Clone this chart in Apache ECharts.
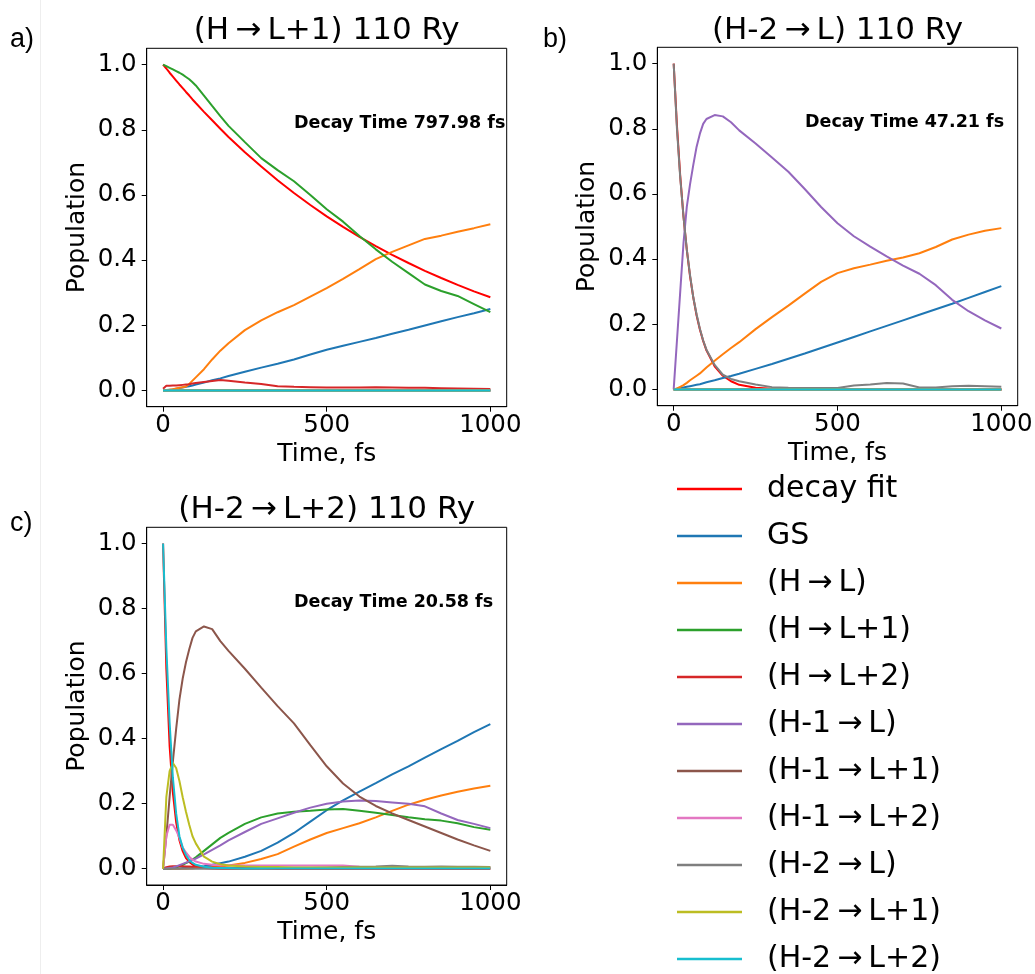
<!DOCTYPE html>
<html><head><meta charset="utf-8">
<script src="https://cdn.jsdelivr.net/npm/echarts@6/dist/echarts.min.js"></script>
<style>html,body{margin:0;padding:0;background:#fff}#c{width:1035px;height:974px}</style>
</head><body><div id="c"></div><script>
// time axis (fs)
const T = [0,10,20,30,40,50,60,70,80,90,100,125,150,175,200,250,300,350,400,450,500,550,600,650,700,750,800,850,900,950,1000];
const xTicks = [0,500,1000];
const yTicks = [0,0.2,0.4,0.6,0.8,1];
const seriesNames = ['decay fit','GS','(H\u2009\u2192\u2009L)','(H\u2009\u2192\u2009L+1)','(H\u2009\u2192\u2009L+2)','(H-1\u2009\u2192\u2009L)','(H-1\u2009\u2192\u2009L+1)','(H-1\u2009\u2192\u2009L+2)','(H-2\u2009\u2192\u2009L)','(H-2\u2009\u2192\u2009L+1)','(H-2\u2009\u2192\u2009L+2)'];
const panelTitles = ['(H\u2009\u2192\u2009L+1) 110 Ry','(H-2\u2009\u2192\u2009L) 110 Ry','(H-2\u2009\u2192\u2009L+2) 110 Ry'];
const decayTexts = ['Decay Time 797.98 fs','Decay Time 47.21 fs','Decay Time 20.58 fs'];
const panelLetters = ['a)','b)','c)'];

// panel a: (H->L+1)
const a_decay = [1.000,0.988,0.975,0.963,0.951,0.939,0.928,0.916,0.905,0.893,0.882,0.855,0.829,0.803,0.778,0.731,0.687,0.645,0.606,0.569,0.534,0.502,0.471,0.443,0.416,0.391,0.367,0.345,0.324,0.304,0.286];
const a_GS    = [0,0.001,0.002,0.003,0.005,0.007,0.009,0.011,0.013,0.015,0.018,0.024,0.031,0.037,0.044,0.057,0.070,0.082,0.095,0.110,0.125,0.137,0.149,0.161,0.174,0.186,0.199,0.212,0.225,0.237,0.250];
const a_HL    = [0,0,0.002,0.004,0.006,0.008,0.010,0.012,0.020,0.030,0.040,0.065,0.095,0.122,0.145,0.185,0.215,0.240,0.262,0.288,0.314,0.342,0.372,0.403,0.425,0.445,0.465,0.475,0.487,0.498,0.510];
const a_HL1   = [1.000,0.995,0.990,0.985,0.980,0.975,0.969,0.962,0.955,0.946,0.936,0.905,0.873,0.842,0.812,0.762,0.713,0.676,0.642,0.600,0.556,0.518,0.474,0.433,0.395,0.360,0.325,0.305,0.290,0.265,0.240];
const a_HL2   = [0.005,0.014,0.014,0.015,0.015,0.016,0.017,0.018,0.019,0.021,0.023,0.026,0.029,0.032,0.030,0.024,0.020,0.013,0.011,0.010,0.009,0.009,0.009,0.010,0.009,0.008,0.008,0.007,0.006,0.005,0.004];
const a_H1L   = [0,0,0,0,0,0,0,0,0,0,0,0,0,0,0,0,0,0,0,0,0,0,0,0,0,0,0,0,0,0,0];
const a_H1L1  = [0,0,0,0,0,0,0,0,0,0,0,0,0,0,0,0,0,0,0,0,0,0,0,0,0,0,0,0,0,0,0];
const a_H1L2  = [0,0,0,0,0,0,0,0,0,0,0,0,0,0,0,0,0,0,0,0,0,0,0,0,0,0,0,0,0,0,0];
const a_H2L   = [0,0,0,0,0,0,0,0,0,0,0,0,0,0,0,0,0,0,0,0,0,0,0,0,0,0,0,0,0,0,0];
const a_H2L1  = [0,0,0,0,0,0,0,0,0,0,0,0,0,0,0,0,0,0,0,0,0,0,0,0,0,0,0,0,0,0,0];
const a_H2L2  = [0,0,0,0,0,0,0,0,0,0,0,0,0,0,0,0,0,0,0,0,0,0,0,0,0,0,0,0,0,0,0];

// panel b: (H-2->L)
const b_decay = [1.000,0.809,0.655,0.530,0.429,0.347,0.281,0.227,0.184,0.149,0.120,0.071,0.042,0.025,0.014,0.005,0.002,0.001,0,0,0,0,0,0,0,0,0,0,0,0,0];
const b_GS    = [0,0.002,0.004,0.006,0.008,0.010,0.012,0.014,0.016,0.019,0.022,0.028,0.035,0.041,0.048,0.063,0.078,0.094,0.110,0.127,0.144,0.161,0.178,0.195,0.212,0.229,0.246,0.263,0.281,0.299,0.317];
const b_HL    = [0,0.003,0.008,0.013,0.020,0.028,0.035,0.042,0.049,0.058,0.067,0.088,0.108,0.127,0.145,0.185,0.222,0.257,0.294,0.330,0.357,0.372,0.383,0.395,0.405,0.418,0.437,0.460,0.475,0.487,0.495];
const b_HL1   = [0,0,0,0,0,0,0,0,0,0,0,0,0,0,0,0,0,0,0,0,0,0,0,0,0,0,0,0,0,0,0];
const b_HL2   = [0,0,0,0,0,0,0,0,0,0,0,0,0,0,0,0,0,0,0,0,0,0,0,0,0,0,0,0,0,0,0];
const b_H1L   = [0,0.15,0.30,0.45,0.56,0.63,0.69,0.745,0.785,0.815,0.830,0.842,0.838,0.820,0.795,0.755,0.712,0.668,0.615,0.560,0.510,0.470,0.438,0.408,0.380,0.355,0.320,0.275,0.240,0.212,0.187];
const b_H1L1  = [0,0,0,0,0,0,0,0,0,0,0,0,0,0,0,0,0,0,0,0,0,0,0,0,0,0,0,0,0,0,0];
const b_H1L2  = [0,0,0,0,0,0,0,0,0,0,0,0,0,0,0,0,0,0,0,0,0,0,0,0,0,0,0,0,0,0,0];
const b_H2L   = [1.000,0.800,0.650,0.530,0.430,0.350,0.282,0.230,0.186,0.150,0.122,0.075,0.045,0.032,0.025,0.015,0.007,0.005,0.004,0.004,0.004,0.012,0.015,0.020,0.018,0.006,0.006,0.010,0.011,0.010,0.008];
const b_H2L1  = [0,0,0,0,0,0,0,0,0,0,0,0,0,0,0,0,0,0,0,0,0,0,0,0,0,0,0,0,0,0,0];
const b_H2L2  = [0,0,0,0,0,0,0,0,0,0,0,0,0,0,0,0,0,0,0,0,0,0,0,0,0,0,0,0,0,0,0];

// panel c: (H-2->L+2)
const c_decay = [1.000,0.615,0.378,0.233,0.143,0.088,0.054,0.033,0.021,0.013,0.008,0.002,0.001,0,0,0,0,0,0,0,0,0,0,0,0,0,0,0,0,0,0];
const c_GS    = [0,0,0,0.001,0.001,0.001,0.002,0.002,0.003,0.004,0.005,0.008,0.012,0.017,0.022,0.037,0.055,0.080,0.110,0.145,0.180,0.210,0.237,0.263,0.290,0.315,0.342,0.368,0.393,0.420,0.445];
const c_HL    = [0,0,0,0,0,0,0,0,0.001,0.001,0.002,0.003,0.005,0.007,0.010,0.018,0.030,0.045,0.068,0.090,0.110,0.125,0.140,0.158,0.178,0.197,0.212,0.225,0.237,0.247,0.255];
const c_HL1   = [0,0,0.001,0.002,0.004,0.008,0.012,0.017,0.022,0.028,0.035,0.055,0.075,0.095,0.110,0.138,0.158,0.170,0.175,0.178,0.182,0.184,0.178,0.172,0.165,0.158,0.152,0.148,0.140,0.128,0.120];
const c_HL2   = [0,0.005,0.007,0.008,0.008,0.008,0.008,0.007,0.007,0.006,0.006,0.005,0.004,0.003,0.003,0.002,0.002,0.001,0.001,0.001,0.001,0.001,0.001,0.001,0.001,0.001,0.001,0.001,0.001,0.001,0.001];
const c_H1L   = [0,0.001,0.002,0.004,0.007,0.011,0.015,0.019,0.023,0.027,0.031,0.044,0.058,0.072,0.087,0.113,0.138,0.155,0.172,0.188,0.200,0.207,0.210,0.208,0.204,0.200,0.192,0.170,0.150,0.138,0.125];
const c_H1L1  = [0,0.10,0.22,0.33,0.43,0.52,0.585,0.635,0.675,0.71,0.73,0.745,0.737,0.70,0.67,0.615,0.557,0.50,0.447,0.38,0.315,0.262,0.222,0.193,0.170,0.150,0.130,0.110,0.090,0.072,0.055];
const c_H1L2  = [0,0.10,0.135,0.135,0.118,0.095,0.065,0.050,0.037,0.028,0.022,0.015,0.012,0.011,0.011,0.010,0.010,0.010,0.010,0.010,0.010,0.010,0.006,0.005,0.005,0.004,0.004,0.004,0.004,0.004,0.004];
const c_H2L   = [0,0,0,0,0,0,0,0,0,0,0,0,0,0,0,0,0.001,0.002,0.003,0.003,0.004,0.005,0.006,0.007,0.009,0.007,0.006,0.007,0.006,0.006,0.005];
const c_H2L1  = [0,0.22,0.30,0.325,0.31,0.27,0.22,0.175,0.135,0.100,0.078,0.037,0.022,0.014,0.010,0.007,0.005,0.005,0.004,0.004,0.004,0.004,0.004,0.004,0.004,0.004,0.004,0.004,0.004,0.004,0.004];
const c_H2L2  = [1.000,0.680,0.450,0.280,0.170,0.100,0.065,0.042,0.027,0.018,0.012,0.006,0.003,0.002,0.002,0.001,0.001,0.001,0.001,0.001,0.001,0.001,0.001,0.001,0.001,0.001,0.001,0.001,0.001,0.001,0.001];

const seriesColors = ['#ff0000','#1f77b4','#ff7f0e','#2ca02c','#d62728','#9467bd','#8c564b','#e377c2','#7f7f7f','#bcbd22','#17becf'];
const panels = [
  [a_decay,a_GS,a_HL,a_HL1,a_HL2,a_H1L,a_H1L1,a_H1L2,a_H2L,a_H2L1,a_H2L2],
  [b_decay,b_GS,b_HL,b_HL1,b_HL2,b_H1L,b_H1L1,b_H1L2,b_H2L,b_H2L1,b_H2L2],
  [c_decay,c_GS,c_HL,c_HL1,c_HL2,c_H1L,c_H1L1,c_H1L2,c_H2L,c_H2L1,c_H2L2]
];

const FONT = 'DejaVu Sans';
const gridBoxes = [
  {left:146.7, top:48.3, width:360, height:358.4},
  {left:657.3, top:47.3, width:360.4, height:358.4},
  {left:146.7, top:527.3, width:360, height:357.7}
];
const grid = gridBoxes.map(g => Object.assign({show:true, borderColor:'#000', borderWidth:1, backgroundColor:'transparent', containLabel:false, outerBoundsMode:'none'}, g));
const xAxis = gridBoxes.map((g,i) => ({
  type:'value', gridIndex:i, min:-50, max:1050,
  axisLine:{show:true, onZero:false, lineStyle:{color:'#000', width:1}},
  axisTick:{show:true, length:5, customValues:xTicks, lineStyle:{color:'#000', width:1}},
  axisLabel:{customValues:xTicks, fontSize:24.5, lineHeight:25, color:'#000', fontFamily:FONT, margin:6, formatter:v=>String(Math.round(v))},
  splitLine:{show:false},
  name:'Time, fs', nameLocation:'middle', nameGap:35,
  nameTextStyle:{fontSize:25, lineHeight:25, color:'#000', fontFamily:FONT}
}));
const yAxis = gridBoxes.map((g,i) => ({
  type:'value', gridIndex:i, min:-0.05, max:1.05,
  axisLine:{show:true, onZero:false, lineStyle:{color:'#000', width:1}},
  axisTick:{show:true, length:5, customValues:yTicks, lineStyle:{color:'#000', width:1}},
  axisLabel:{customValues:yTicks, fontSize:24.5, lineHeight:25, color:'#000', fontFamily:FONT, margin:10, formatter:v=>v.toFixed(1)},
  splitLine:{show:false},
  name:'Population', nameLocation:'middle', nameGap:57, nameRotate:90,
  nameTextStyle:{fontSize:25, lineHeight:25, color:'#000', fontFamily:FONT}
}));
const series = [];
panels.forEach((arrs,p) => {
  arrs.forEach((arr,k) => {
    series.push({
      type:'line', name:seriesNames[k], xAxisIndex:p, yAxisIndex:p,
      data:T.map((t,j)=>[t, arr[j]]),
      showSymbol:false, symbol:'none', smooth:false,
      lineStyle:{width:2, color:seriesColors[k]}, itemStyle:{color:seriesColors[k]},
      emphasis:{disabled:true}, animation:false
    });
  });
});
const titleCenters = [[326.7,31],[837.5,31],[326.7,509.5]];
const decayPos = [[294,123.5],[805,122.5],[294,602.5]];
const letterPos = [[10,39.5],[543,39.5],[10,524]];
const graphic = [{type:'line', shape:{x1:40.5,y1:0,x2:40.5,y2:974}, style:{stroke:'#eeeeee', lineWidth:1}, silent:true}];
panelTitles.forEach((t,i)=>graphic.push({type:'text', x:titleCenters[i][0], y:titleCenters[i][1], style:{text:t, fontSize:31, fontFamily:FONT, fill:'#000', align:'center', verticalAlign:'middle', textAlign:'center', textVerticalAlign:'middle'}}));
decayTexts.forEach((t,i)=>graphic.push({type:'text', x:decayPos[i][0], y:decayPos[i][1], style:{text:t, fontSize:17.5, fontWeight:'bold', fontFamily:FONT, fill:'#000', align:'left', verticalAlign:'middle', textAlign:'left', textVerticalAlign:'middle'}}));
panelLetters.forEach((t,i)=>graphic.push({type:'text', x:letterPos[i][0], y:letterPos[i][1], style:{text:t, fontSize:27, fontFamily:'Liberation Sans', fill:'#000', align:'left', verticalAlign:'middle', textAlign:'left', textVerticalAlign:'middle'}}));

const chart = echarts.init(document.getElementById('c'), null, {renderer:'canvas'});
chart.setOption({
  animation:false,
  backgroundColor:'#fff',
  grid, xAxis, yAxis, series, graphic,
  legend:{
    data:seriesNames, orient:'vertical', left:677, top:474, padding:0,
    icon:'rect', itemWidth:65, itemHeight:2.5, itemGap:17,
    itemStyle:{borderWidth:0},
    textStyle:{fontSize:30, lineHeight:30, fontFamily:FONT, color:'#000', padding:[0,0,0,20]},
    selectedMode:false
  }
});
</script></body></html>
